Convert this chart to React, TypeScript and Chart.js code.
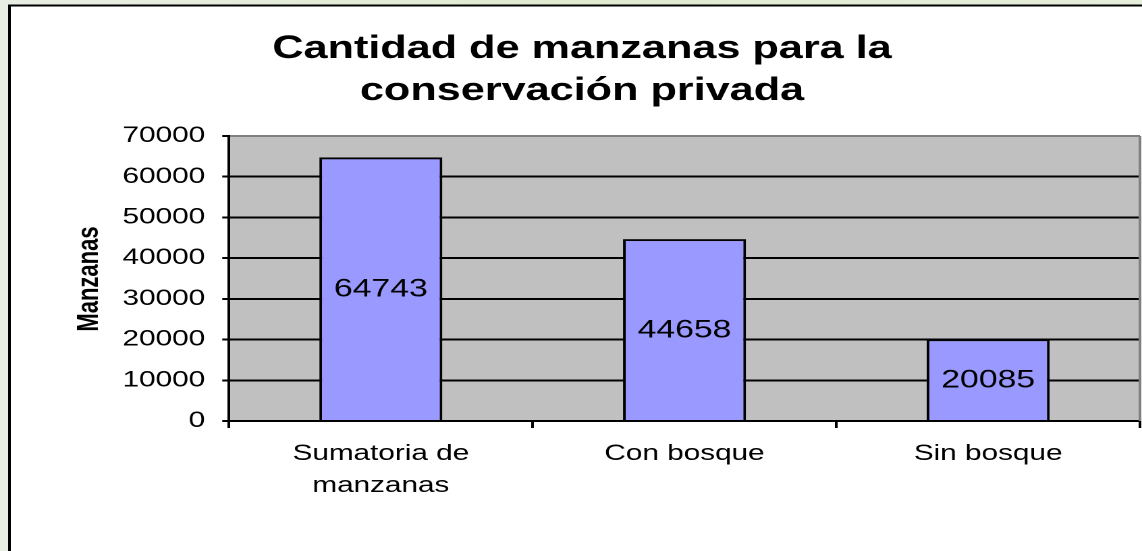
import React, { useEffect, useRef } from "react";
import { Chart, registerables } from "chart.js";

Chart.register(...registerables);

const categories: (string | string[])[] = [["Sumatoria de", "manzanas"], "Con bosque", "Sin bosque"];
const values: number[] = [64743, 44658, 20085];
const yMin = 0;
const yMax = 70000;
const yStep = 10000;
const titleLines: string[] = ["Cantidad de manzanas para la", "conservación privada"];
const yTitle = "Manzanas";

const FULL_W = 1142;
const H = 551;
const W = 846; // logical width; the canvas is stretched horizontally to 1142
const S = FULL_W / W;
const FONT = "'Liberation Sans', Arial, sans-serif";

const decoPlugin = {
  id: "deco",
  beforeDraw(chart: any) {
    const { ctx, chartArea } = chart;
    ctx.save();
    const g = ctx.createLinearGradient(0, 0, W, 0);
    g.addColorStop(0, "#e9eee4");
    g.addColorStop(0.5, "#e0ebd0");
    g.addColorStop(1, "#e6eedc");
    ctx.fillStyle = g;
    ctx.fillRect(0, 0, W, H);
    ctx.fillStyle = "#ffffff";
    ctx.fillRect(7, 5.5, W, H);
    ctx.strokeStyle = "#000";
    ctx.lineWidth = 2;
    ctx.beginPath();
    ctx.moveTo(7, H + 5);
    ctx.lineTo(7, 5.5);
    ctx.lineTo(W + 5, 5.5);
    ctx.stroke();
    ctx.fillStyle = "#c0c0c0";
    ctx.fillRect(chartArea.left, chartArea.top, chartArea.right - chartArea.left, chartArea.bottom - chartArea.top);
    ctx.restore();
  },
  afterDatasetsDraw(chart: any) {
    const { ctx, chartArea } = chart;
    ctx.save();
    // right plot border
    ctx.strokeStyle = "#808080";
    ctx.lineWidth = 2;
    ctx.beginPath();
    ctx.moveTo(chartArea.right, chartArea.top);
    ctx.lineTo(chartArea.right, chartArea.bottom);
    ctx.stroke();
    // data labels
    const meta = chart.getDatasetMeta(0);
    ctx.fillStyle = "#000";
    ctx.font = `25px ${FONT}`;
    ctx.textAlign = "center";
    ctx.textBaseline = "middle";
    meta.data.forEach((bar: any, i: number) => {
      const yc = (bar.y + bar.base) / 2;
      ctx.fillText(String(values[i]), bar.x, yc + 1);
    });
    // title
    ctx.font = `bold 32px ${FONT}`;
    ctx.fillText(titleLines[0], 582 / S, 49);
    ctx.fillText(titleLines[1], 582 / S, 91);
    // y title
    ctx.translate(90 / S, 279);
    ctx.rotate(-Math.PI / 2);
    ctx.font = `bold 22px ${FONT}`;
    ctx.fillText(yTitle, 0, 0);
    ctx.restore();
  },
};

export default function App() {
  const ref = useRef<HTMLCanvasElement>(null);
  useEffect(() => {
    document.body.style.overflow = "hidden";
    const chartLeft = 229 / S;
    const chartRight = 1140 / S;
    const chartTop = 136;
    const chartBottom = 421;
    const chart = new Chart(ref.current as HTMLCanvasElement, {
      type: "bar",
      data: {
        labels: categories,
        datasets: [
          {
            data: values,
            backgroundColor: "#9999ff",
            borderColor: "#000",
            borderWidth: 2,
            barPercentage: 0.405,
            categoryPercentage: 1,
          },
        ],
      },
      options: {
        animation: false,
        responsive: false,
        devicePixelRatio: 2,
        layout: { padding: { left: 0, top: chartTop, right: W - chartRight, bottom: 0 } },
        plugins: { legend: { display: false }, title: { display: false }, tooltip: { enabled: false } },
        scales: {
          x: {
            afterFit: (s: any) => {
              s.height = H - chartBottom;
            },
            grid: {
              drawOnChartArea: false,
              drawTicks: true,
              tickLength: 7,
              tickColor: "#000",
              lineWidth: 2,
              offset: true,
            },
            border: { color: "#000", width: 2 },
            ticks: {
              color: "#000",
              padding: 10,
              maxRotation: 0,
              autoSkip: false,
              font: { family: FONT, size: 22, lineHeight: 1.45 },
            },
          },
          y: {
            min: yMin,
            max: yMax,
            afterFit: (s: any) => {
              s.width = chartLeft;
            },
            grid: {
              color: (c: any) => (c.tick && c.tick.value === yMax ? "#808080" : "#000"),
              lineWidth: 2,
              tickLength: 5,
              tickColor: "#000",
            },
            border: { color: "#000", width: 2 },
            ticks: {
              stepSize: yStep,
              color: "#000",
              padding: 12.7,
              font: { family: FONT, size: 22 },
              callback: (v: any) => String(v),
            },
          },
        },
      },
      plugins: [decoPlugin],
    });
    return () => chart.destroy();
  }, []);
  return (
    <div
      style={{
        position: "absolute",
        left: 0,
        top: 0,
        width: W,
        height: H,
        transform: `scaleX(${S})`,
        transformOrigin: "0 0",
      }}
    >
      <canvas ref={ref} width={W} height={H} style={{ display: "block", width: W, height: H }} />
    </div>
  );
}
